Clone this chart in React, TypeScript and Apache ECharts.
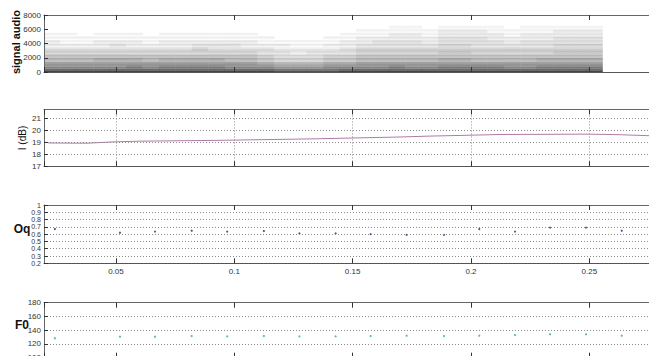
import React, { useEffect, useRef } from 'react';
import * as echarts from 'echarts';

const X_MIN = 0.0196;
const X_MAX = 0.2752;

// Spectrogram (panel 1): time span, per-column gray levels for 500 Hz bands (0 = dark, f = white)
const specStart = 0.0196;
const specEnd = 0.2555;
const specLevels = [
  '3679abcddeeff', '3679abcdeeeff', '3679abcdeefff', '3678abcddeeff', '3678abccdeeff',
  '3578abcddeeff', '3679abcdeefff', '3578abcddeeff', '3578abcddeeff', '3578abbcdeeff',
  '3578abccdeeff', '3679abccdeeff', '3679abcddeeff', '368abccdeefff', '479bccddeffff',
  '479bcddeeffff', '479bccdeeffff', '468abcddeefff', '368abccddeeff', '3679abbcddeef',
  '3679abbccdeef', '3579abbccddee', '3679abbccddee', '3679abbcddeef', '3578aabbccdde',
  '3578aabbccdde', '3579abbcccdde', '3579abbccddee', '3679abbcddeef', '3679abbccddee',
  '3578abbccddee', '3578aabbccdde', '3578aabbccdde', '3578aabbccdde',
];
// fine stripes of 250 Hz sub-bands (gray offsets)
const stripeOffsets = [-34, 4, -8, 12, -6, 8, 14, -10, 6, -8, 12, -2, -6, 10, 14, -8, 8, -2, 10, -6, 6, -2, 6, -2, 4, 0];

// Panel 2: intensity (dB)
const intensityT = [0.0196, 0.0221, 0.0377, 0.0475, 0.0593, 0.0927, 0.1193, 0.1349, 0.1531, 0.170, 0.1814, 0.1996, 0.2123, 0.2503, 0.2630, 0.2752];
const intensityDb = [19.03, 18.95, 18.93, 19.03, 19.1, 19.17, 19.25, 19.3, 19.38, 19.45, 19.52, 19.6, 19.66, 19.69, 19.64, 19.56];

// Panel 3 & 4: Oq and F0 per frame
const frameT = [0.0242, 0.0517, 0.0665, 0.0820, 0.0970, 0.1125, 0.1275, 0.1428, 0.1576, 0.1728, 0.1886, 0.2035, 0.2186, 0.2334, 0.2486, 0.2637];
const oqValues = [0.67, 0.62, 0.635, 0.647, 0.635, 0.643, 0.61, 0.61, 0.60, 0.59, 0.59, 0.67, 0.635, 0.69, 0.69, 0.647];
const f0Values = [128.2, 130.5, 130.5, 131.5, 131, 131.5, 131, 131, 131.5, 132, 131.5, 132, 133, 134, 134, 132];

const panelLabels = ['signal audio', 'I (dB)', 'Oq', 'F0'];

const FONT = 'Liberation Sans, Arial, sans-serif';

function buildSpectro() {
  const out: number[][] = [];
  const n = specLevels.length;
  const w = (specEnd - specStart) / n;
  for (let c = 0; c < n; c++) {
    const t0 = specStart + c * w;
    for (let s = 0; s < stripeOffsets.length; s++) {
      const d = parseInt(specLevels[c][Math.floor(s / 2)], 16);
      if (d >= 15) continue;
      let g = 64 + 12.8 * d + stripeOffsets[s];
      g = Math.round(Math.max(30, Math.min(252, g)));
      out.push([t0, t0 + w, s * 250, (s + 1) * 250, g]);
    }
  }
  return out;
}

export default function App() {
  const ref = useRef<HTMLDivElement>(null);
  useEffect(() => {
    document.body.style.margin = '0';
    const chart = echarts.init(ref.current!, null, { renderer: 'svg' });
    const grids = [
      { left: 44, right: 0, top: 15, height: 57 },
      { left: 44, right: 0, top: 109.5, height: 56.8 },
      { left: 44, right: 0, top: 205, height: 58.3 },
      { left: 44, right: 0, top: 302.7, height: 55 },
    ];
    const dotted = { color: '#8a8a8a', width: 1, type: [1, 2] as any };
    const xAxes: any[] = [];
    grids.forEach((_, i) => {
      xAxes.push({
        type: 'value', gridIndex: i, min: X_MIN, max: X_MAX, splitNumber: 5, position: 'bottom', z: 10,
        axisLine: { show: true, lineStyle: { color: '#555' } },
        axisTick: { show: true, inside: true, length: 5, lineStyle: { color: '#333' } },
        axisLabel: {
          show: i === 2, showMinLabel: false, showMaxLabel: false, fontSize: 8, color: '#333', fontFamily: FONT, margin: 4,
          formatter: (v: number) => String(Math.round(v * 100) / 100),
        },
        splitLine: { show: i === 1, lineStyle: dotted },
      });
      xAxes.push({
        type: 'value', gridIndex: i, min: X_MIN, max: X_MAX, splitNumber: 5, position: 'top', z: 10,
        axisLine: { show: true, lineStyle: { color: '#666' } },
        axisTick: { show: true, inside: true, length: 5, lineStyle: { color: '#333' } },
        axisLabel: { show: false },
        splitLine: { show: false },
      });
    });
    const baseLabel = {
      fontSize: 8, color: '#333', fontFamily: FONT, margin: 3, showMinLabel: true, showMaxLabel: true,
      formatter: (v: number) => String(Math.round(v * 100) / 100),
    };
    const yBase = {
      type: 'value', z: 10,
      axisLine: { show: true, lineStyle: { color: '#666' } },
      axisTick: { show: true, inside: true, length: 4, lineStyle: { color: '#333' } },
      axisLabel: baseLabel,
    };
    const yAxes = [
      { ...yBase, gridIndex: 0, min: 0, max: 8000, interval: 2000, splitLine: { show: false } },
      { ...yBase, gridIndex: 1, min: 17, max: 21.75, interval: 1, splitLine: { show: true, lineStyle: dotted },
        axisLabel: { ...baseLabel, showMaxLabel: false } },
      { ...yBase, gridIndex: 2, min: 0.2, max: 1, interval: 0.1, splitLine: { show: true, lineStyle: dotted },
        axisLabel: { ...baseLabel, fontSize: 7, lineHeight: 7 } },
      { ...yBase, gridIndex: 3, min: 100, max: 180, interval: 20, splitLine: { show: true, lineStyle: dotted } },
    ];
    const option: any = {
      animation: false,
      backgroundColor: '#fff',
      grid: grids.map((g) => ({ ...g, show: false, containLabel: false, outerBoundsMode: 'none' })),
      xAxis: xAxes,
      yAxis: yAxes,
      series: [
        {
          type: 'custom', xAxisIndex: 0, yAxisIndex: 0, data: buildSpectro(),
          encode: { x: [0, 1], y: [2, 3] },
          clip: true,
          renderItem: (_p: any, api: any) => {
            const a = api.coord([api.value(0), api.value(3)]);
            const b = api.coord([api.value(1), api.value(2)]);
            const g = api.value(4);
            return {
              type: 'rect',
              shape: { x: a[0], y: a[1], width: b[0] - a[0] + 0.4, height: b[1] - a[1] + 0.3 },
              style: { fill: `rgb(${g},${g},${g})` },
            };
          },
        },
        {
          type: 'line', xAxisIndex: 2, yAxisIndex: 1, showSymbol: false, symbol: 'none',
          data: intensityT.map((t, i) => [t, intensityDb[i]]),
          lineStyle: { color: '#b07aa8', width: 1 },
        },
        {
          type: 'scatter', xAxisIndex: 4, yAxisIndex: 2, symbol: 'circle', symbolSize: 2.2,
          data: frameT.map((t, i) => [t, oqValues[i]]),
          itemStyle: { color: '#2a2a7a' },
        },
        {
          type: 'scatter', xAxisIndex: 6, yAxisIndex: 3, symbol: 'circle', symbolSize: 2.2,
          data: frameT.map((t, i) => [t, f0Values[i]]),
          itemStyle: { color: '#40a0a0' },
        },
      ],
      graphic: [
        { type: 'text', x: 16, y: 42, rotation: Math.PI / 2,
          style: { text: panelLabels[0], font: `bold 11px ${FONT}`, fill: '#111', align: 'center', verticalAlign: 'middle' } },
        { type: 'text', x: 22, y: 138, rotation: Math.PI / 2,
          style: { text: panelLabels[1], font: `10px ${FONT}`, fill: '#111', align: 'center', verticalAlign: 'middle' } },
        { type: 'text', x: 22, y: 229,
          style: { text: panelLabels[2], font: `bold 12px ${FONT}`, fill: '#111', align: 'center', verticalAlign: 'middle' } },
        { type: 'text', x: 22, y: 325,
          style: { text: panelLabels[3], font: `bold 12px ${FONT}`, fill: '#111', align: 'center', verticalAlign: 'middle' } },
      ],
    };
    chart.setOption(option);
    return () => chart.dispose();
  }, []);
  return <div ref={ref} style={{ position: 'fixed', left: 0, top: 0, width: 649, height: 356 }} />;
}
